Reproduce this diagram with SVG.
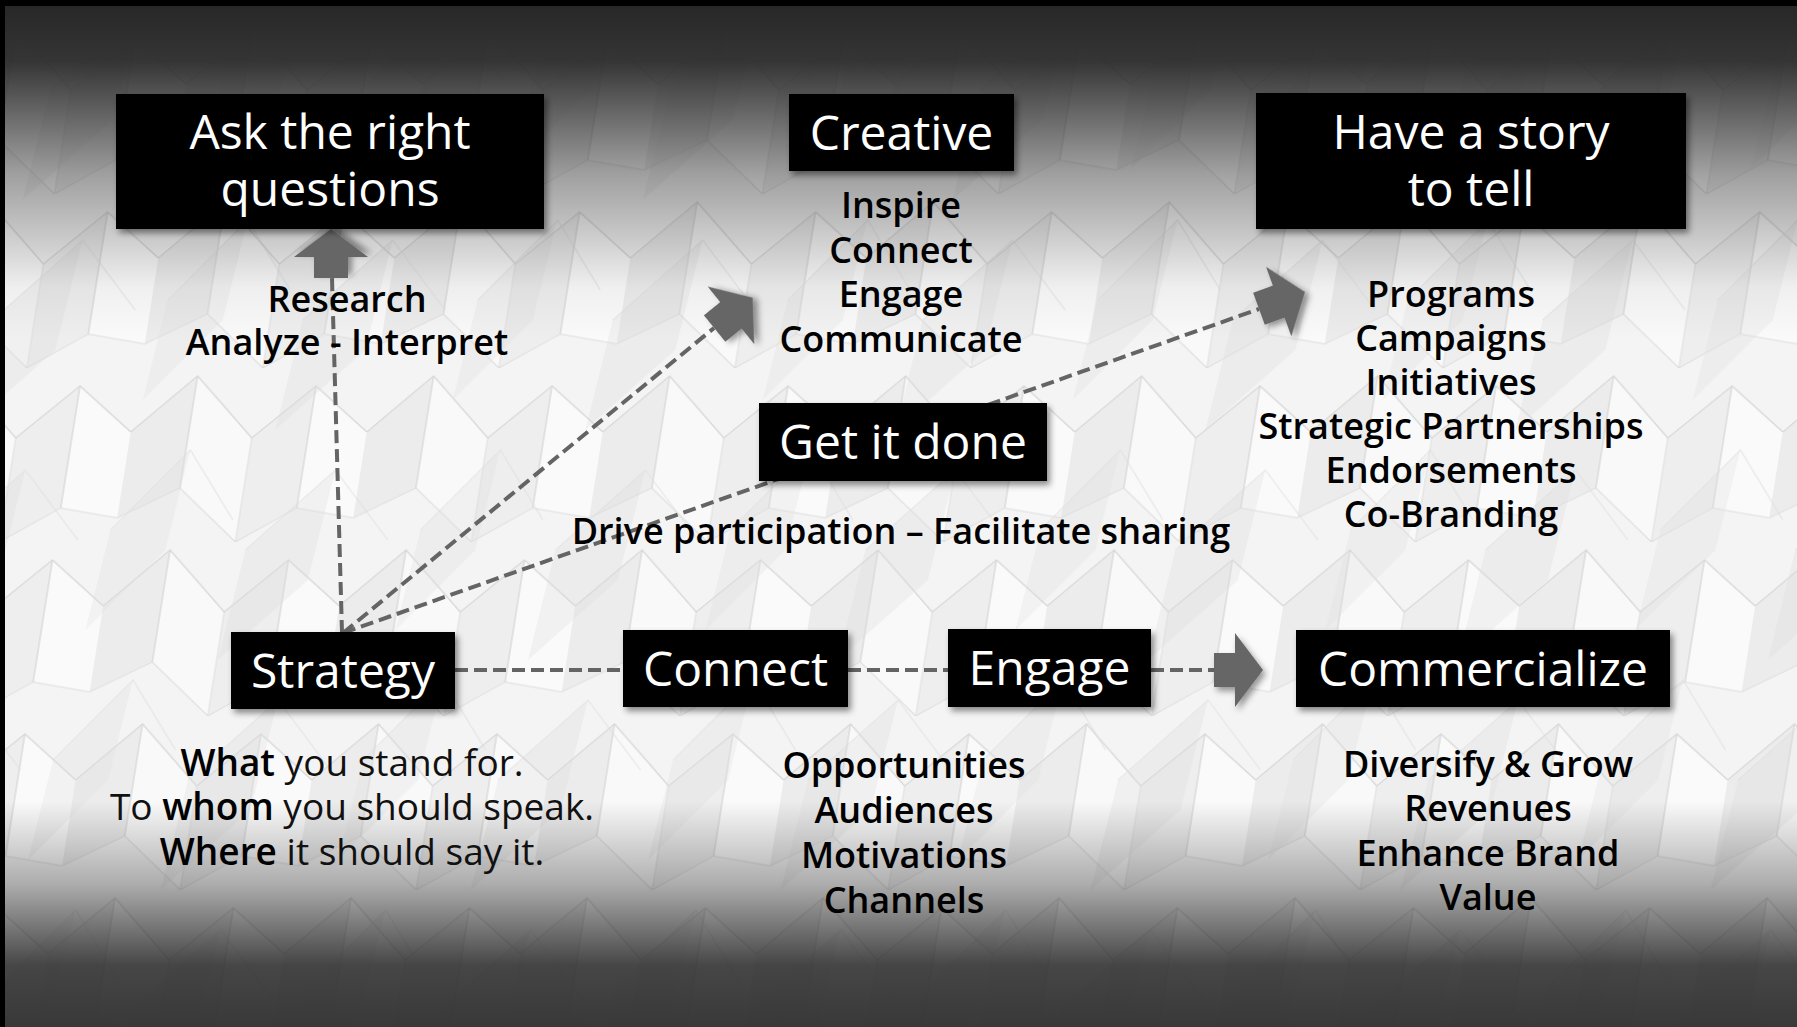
<svg xmlns="http://www.w3.org/2000/svg" width="1797" height="1027" viewBox="0 0 1797 1027">
  <defs>
    <style>
      .box { fill: #000; filter: url(#shadow); }
      .title { font-family: "Open Sans", "Liberation Sans", sans-serif; font-size: 48px; fill: #fff; text-anchor: middle; }
      .sub { font-family: "Open Sans", "Liberation Sans", sans-serif; font-size: 36px; font-weight: 600; fill: #000; text-anchor: middle; }
      .plain { font-size: 37px; font-weight: 400; fill: #111; }
      .strong { font-weight: 600; fill: #000; }
      .dash { fill: none; stroke: #646464; stroke-width: 4; stroke-dasharray: 13 6; }
      .blockarrow { fill: #666; filter: url(#ashadow); }
      .edge { fill: none; stroke: #d6d6d6; stroke-width: 1.2; }
      .edge2 { fill: none; stroke: #dedede; stroke-width: 1; }
    </style>
    <filter id="shadow" x="-10%" y="-20%" width="130%" height="150%">
      <feDropShadow dx="3" dy="4" stdDeviation="3" flood-color="#000" flood-opacity="0.45"/>
    </filter>
    <filter id="ashadow" x="-40%" y="-40%" width="180%" height="180%">
      <feDropShadow dx="3" dy="4" stdDeviation="3" flood-color="#000" flood-opacity="0.4"/>
    </filter>
    <!-- block arrow, tip at origin, pointing along +x -->
    <polygon id="arrowhead" points="0,0 -28,-37 -28,-17 -49,-17 -49,17 -28,17 -28,37"/>
    <!-- folded-panel wall texture, two layers of different pitch -->
    <pattern id="facets" width="236" height="174" patternUnits="userSpaceOnUse" patternTransform="translate(-40,20) skewX(-9)">
      <rect width="236" height="174" fill="#f4f4f4"/>
      <polygon points="0,64 58,8 58,120 0,150" fill="#ececec"/>
      <polygon points="58,8 122,70 122,174 58,120" fill="#f9f9f9"/>
      <polygon points="122,70 178,18 178,140 122,174" fill="#eeeeee"/>
      <polygon points="178,18 236,64 236,150 178,140" fill="#fafafa"/>
      <polyline points="0,64 58,8 122,70 178,18 236,64" class="edge"/>
      <polyline points="58,8 58,120" class="edge"/>
      <polyline points="178,18 178,140" class="edge"/>
      <polyline points="122,70 122,174" class="edge2"/>
      <polyline points="0,150 58,120 122,174" class="edge2"/>
      <polyline points="122,174 178,140 236,150" class="edge2"/>
    </pattern>
    <pattern id="facets2" width="310" height="230" patternUnits="userSpaceOnUse" patternTransform="translate(60,-30) skewX(-14)">
      <polygon points="20,230 90,150 90,40 20,120" fill="#dcdcdc" opacity="0.3"/>
      <polygon points="190,200 250,120 250,20 190,100" fill="#e0e0e0" opacity="0.3"/>
      <polyline points="20,120 90,40 160,110" class="edge2" opacity="0.7"/>
      <polyline points="190,100 250,20 310,90" class="edge2" opacity="0.7"/>
    </pattern>
    <linearGradient id="vignette" x1="0" y1="0" x2="0" y2="1">
      <stop offset="0" stop-color="#262626" stop-opacity="1"/>
      <stop offset="0.06" stop-color="#2b2b2b" stop-opacity="0.95"/>
      <stop offset="0.17" stop-color="#2b2b2b" stop-opacity="0.42"/>
      <stop offset="0.28" stop-color="#2b2b2b" stop-opacity="0.05"/>
      <stop offset="0.33" stop-color="#2b2b2b" stop-opacity="0"/>
      <stop offset="0.78" stop-color="#2b2b2b" stop-opacity="0"/>
      <stop offset="0.86" stop-color="#2b2b2b" stop-opacity="0.35"/>
      <stop offset="0.94" stop-color="#2e2e2e" stop-opacity="0.88"/>
      <stop offset="1" stop-color="#333" stop-opacity="0.97"/>
    </linearGradient>
  </defs>

  <!-- backdrop -->
  <g id="backdrop">
    <rect width="1797" height="1027" fill="url(#facets)"/>
    <rect width="1797" height="1027" fill="url(#facets2)"/>
    <rect width="1797" height="1027" fill="url(#vignette)"/>
    <rect x="0" y="0" width="1797" height="6" fill="#000"/>
    <rect x="0" y="0" width="5" height="1027" fill="#000"/>
  </g>

  <!-- connectors -->
  <g id="connectors">
    <line class="dash" x1="342" y1="633" x2="332" y2="278"/>
    <line class="dash" x1="343" y1="633" x2="714" y2="328"/>
    <line class="dash" x1="343" y1="633" x2="1259" y2="309"/>
    <line class="dash" x1="455" y1="670" x2="623" y2="670"/>
    <line class="dash" x1="848" y1="670" x2="948" y2="670"/>
    <line class="dash" x1="1151" y1="670" x2="1217" y2="670"/>
    <use href="#arrowhead" class="blockarrow" transform="translate(331,229) rotate(-90)"/>
    <use href="#arrowhead" class="blockarrow" transform="translate(752.7,297.7) rotate(-39)"/>
    <use href="#arrowhead" class="blockarrow" transform="translate(1305,292) rotate(-20)"/>
    <use href="#arrowhead" class="blockarrow" transform="translate(1263,670)"/>
  </g>

  <!-- Ask the right questions -->
  <g id="node-questions">
    <rect class="box" x="116" y="94" width="428" height="135"/>
    <text class="title" x="330" y="149">Ask the right</text>
    <text class="title" x="330" y="205.5">questions</text>
    <text class="sub" x="347" y="312">Research</text>
    <text class="sub" x="347" y="355">Analyze - Interpret</text>
  </g>

  <!-- Creative -->
  <g id="node-creative">
    <rect class="box" x="789" y="94" width="225" height="77"/>
    <text class="title" x="901.5" y="150">Creative</text>
    <text class="sub" x="901" y="218">Inspire</text>
    <text class="sub" x="901" y="262.5">Connect</text>
    <text class="sub" x="901" y="307">Engage</text>
    <text class="sub" x="901" y="351.5">Communicate</text>
  </g>

  <!-- Have a story to tell -->
  <g id="node-story">
    <rect class="box" x="1256" y="93" width="430" height="136"/>
    <text class="title" x="1471" y="149">Have a story</text>
    <text class="title" x="1471" y="205.5">to tell</text>
    <text class="sub" x="1451" y="307">Programs</text>
    <text class="sub" x="1451" y="351">Campaigns</text>
    <text class="sub" x="1451" y="395">Initiatives</text>
    <text class="sub" x="1451" y="439">Strategic Partnerships</text>
    <text class="sub" x="1451" y="483">Endorsements</text>
    <text class="sub" x="1451" y="527">Co-Branding</text>
  </g>

  <!-- Get it done -->
  <g id="node-done">
    <rect class="box" x="759" y="403" width="288" height="78"/>
    <text class="title" x="903" y="459">Get it done</text>
    <text class="sub" x="901" y="544">Drive participation – Facilitate sharing</text>
  </g>

  <!-- Strategy -->
  <g id="node-strategy">
    <rect class="box" x="231" y="632" width="224" height="77"/>
    <text class="title" x="343" y="687.5">Strategy</text>
    <text class="sub plain" x="352" y="776"><tspan class="strong">What</tspan> you stand for.</text>
    <text class="sub plain" x="352" y="820">To <tspan class="strong">whom</tspan> you should speak.</text>
    <text class="sub plain" x="352" y="865"><tspan class="strong">Where</tspan> it should say it.</text>
  </g>

  <!-- Connect -->
  <g id="node-connect">
    <rect class="box" x="623" y="630" width="225" height="77"/>
    <text class="title" x="735.5" y="686">Connect</text>
  </g>

  <!-- Engage -->
  <g id="node-engage">
    <rect class="box" x="948" y="629" width="203" height="78"/>
    <text class="title" x="1049.5" y="685">Engage</text>
    <text class="sub" x="904" y="778">Opportunities</text>
    <text class="sub" x="904" y="823">Audiences</text>
    <text class="sub" x="904" y="868">Motivations</text>
    <text class="sub" x="904" y="913">Channels</text>
  </g>

  <!-- Commercialize -->
  <g id="node-commercialize">
    <rect class="box" x="1296" y="630" width="374" height="77"/>
    <text class="title" x="1483" y="686">Commercialize</text>
    <text class="sub" x="1488" y="777">Diversify &amp; Grow</text>
    <text class="sub" x="1488" y="821">Revenues</text>
    <text class="sub" x="1488" y="866">Enhance Brand</text>
    <text class="sub" x="1488" y="910">Value</text>
  </g>
</svg>
